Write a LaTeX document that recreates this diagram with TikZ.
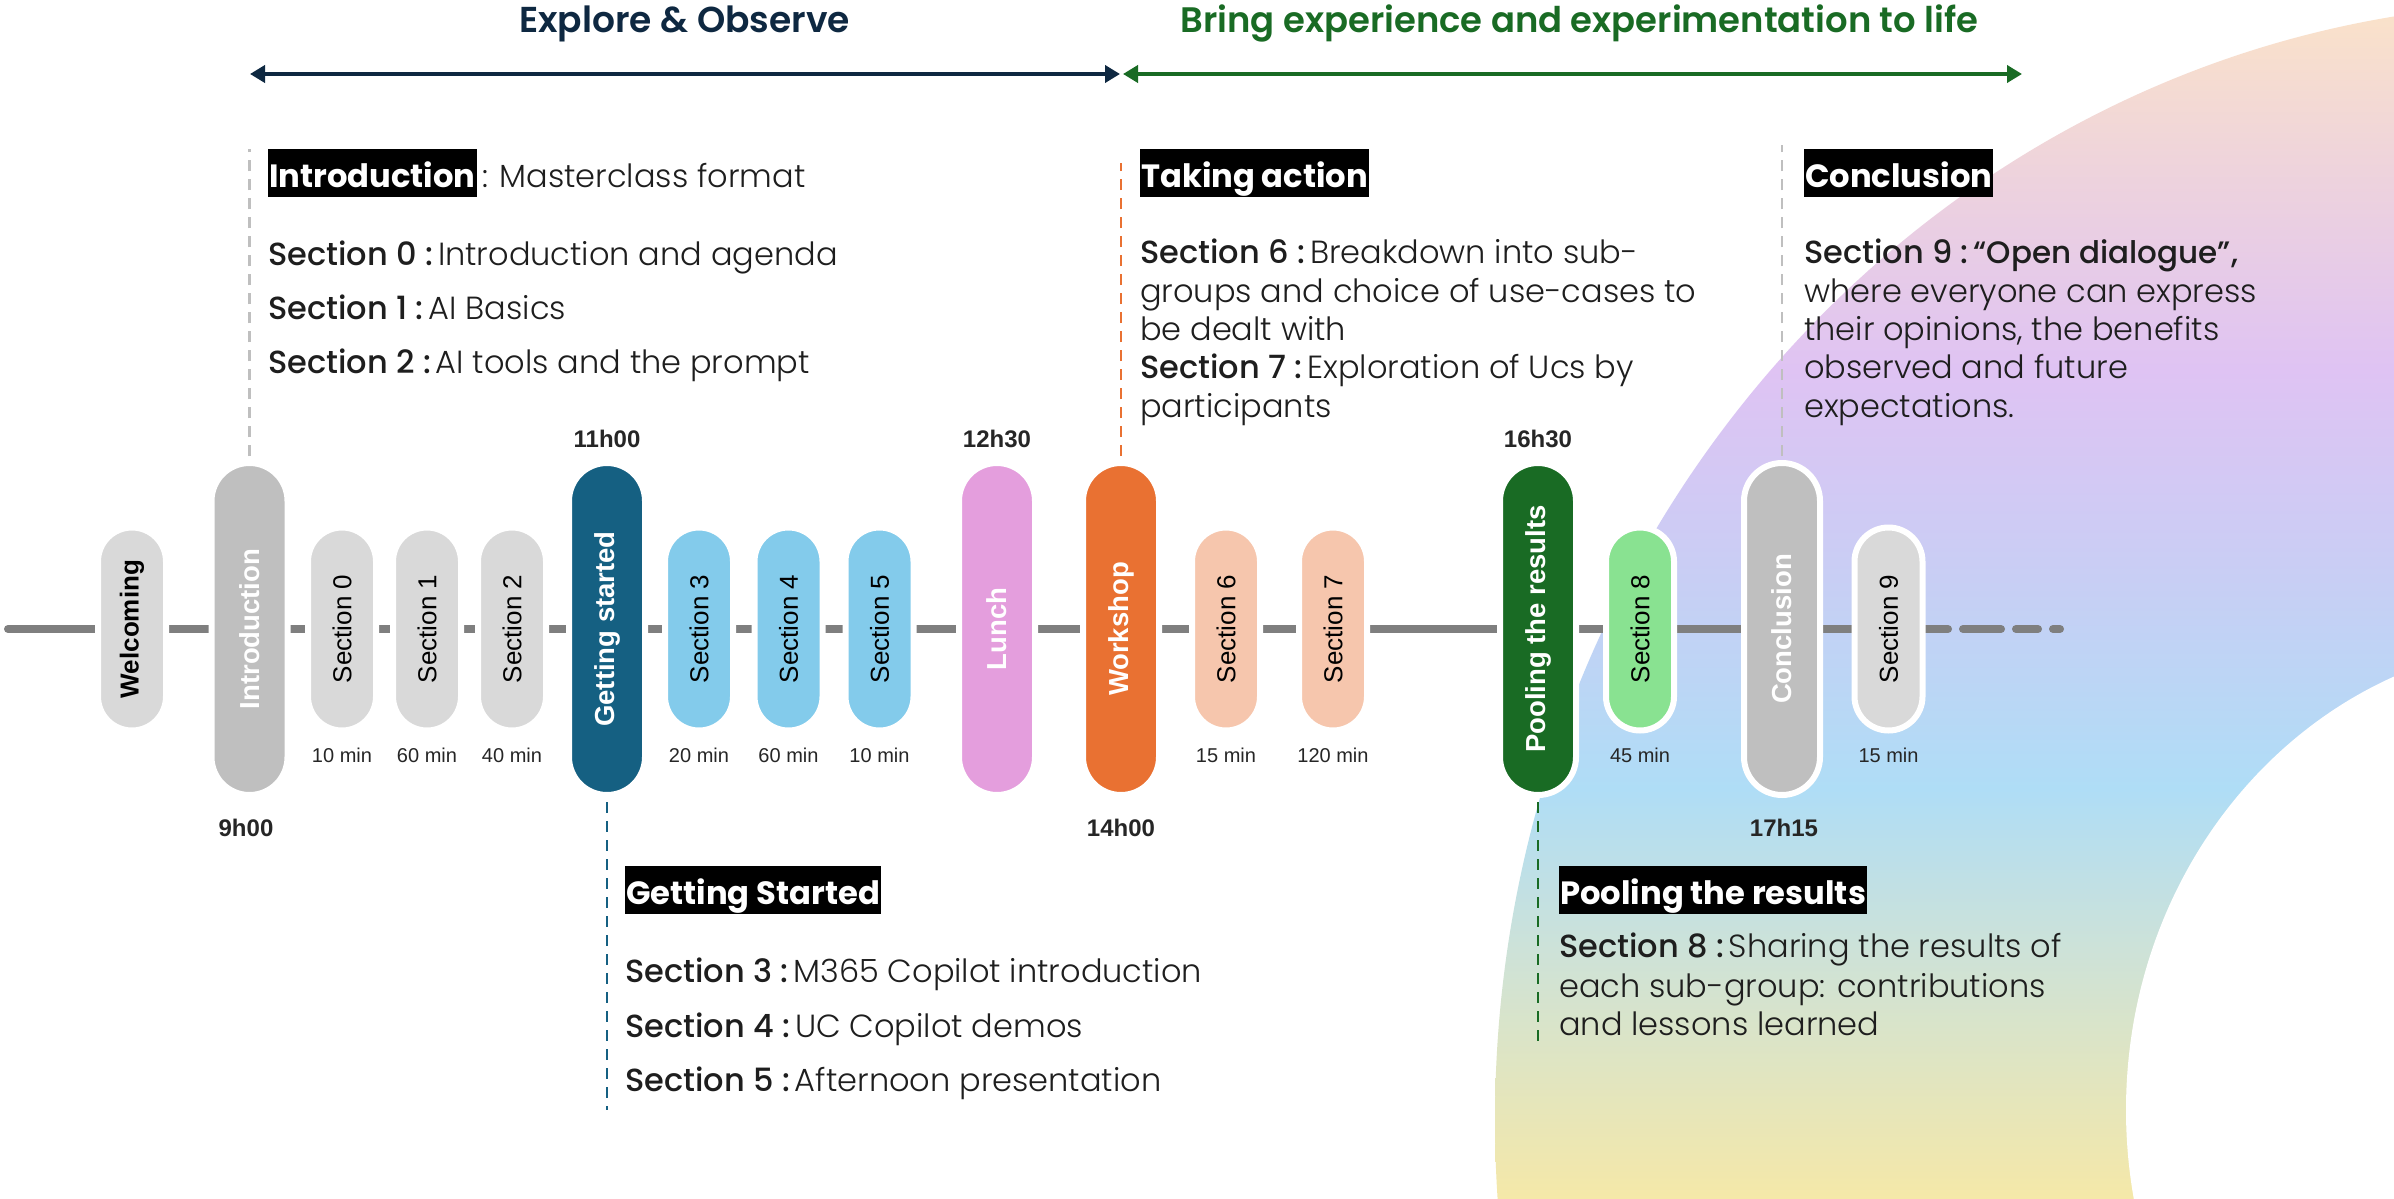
\documentclass[tikz,border=0pt]{standalone}
\usepackage{fontspec}
\setmainfont{Poppins}
\newfontfamily\plight{Poppins Light}
\newfontfamily\pmed{Poppins Medium}
\newfontfamily\psemi{Poppins SemiBold}
\newfontfamily\arial{Liberation Sans}
\usetikzlibrary{arrows.meta}

% palette
\definecolor{cNavy}{HTML}{0E2841}
\definecolor{cGreen}{HTML}{196B24}
\definecolor{cTeal}{HTML}{156082}
\definecolor{cOrange}{HTML}{E97132}
\definecolor{cPink}{HTML}{E49EDD}
\definecolor{cSky}{HTML}{83CBEB}
\definecolor{cPeach}{HTML}{F6C6AD}
\definecolor{cMint}{HTML}{89E291}
\definecolor{cLight}{HTML}{D9D9D9}
\definecolor{cMid}{HTML}{BFBFBF}
\definecolor{cLine}{HTML}{7F7F7F}
\definecolor{ink}{HTML}{1E1E1E}
\definecolor{timeink}{HTML}{262626}
% band colours, top to bottom
\definecolor{bgA}{HTML}{FBE3C8}
\definecolor{bgB}{HTML}{EED3DC}
\definecolor{bgC}{HTML}{DFC3F3}
\definecolor{bgD}{HTML}{CACDF4}
\definecolor{bgE}{HTML}{AFDDF6}
\definecolor{bgF}{HTML}{CDE2D8}
\definecolor{bgG}{HTML}{F5E8A8}

\pgfdeclareverticalshading{arcband}{100bp}{%
  color(0bp)=(bgG); color(25bp)=(bgG); color(35.4bp)=(bgF);
  color(42.1bp)=(bgE); color(51.6bp)=(bgD); color(59.6bp)=(bgC);
  color(67.9bp)=(bgB); color(75bp)=(bgA); color(100bp)=(bgA)}

\tikzset{
  pill/.style={draw=white, line width=6pt, rounded corners=#1, inner sep=0pt},
  shortpill/.style={pill=34pt, minimum width=68pt, minimum height=203pt},
  tallpill/.style={pill=38pt, minimum width=76pt, minimum height=332pt},
  plabel/.style={rotate=90, inner sep=0pt, font=\arial\fontsize{26}{26}\selectfont},
  pbold/.style={rotate=90, inner sep=0pt, font=\arial\bfseries\fontsize{27.5}{27.5}\selectfont},
  dur/.style={anchor=base, inner sep=0pt, text=timeink, font=\arial\fontsize{20}{20}\selectfont},
  clock/.style={anchor=base, inner sep=0pt, text=timeink, font=\arial\bfseries\fontsize{24}{24}\selectfont},
  body/.style={anchor=base west, inner sep=0pt, text=ink, font=\plight\fontsize{32}{32}\selectfont},
  hbox/.style={anchor=base west, fill=black, text=white, inner xsep=1pt, inner ysep=0pt,
    text height=38pt, text depth=10pt, font=\bfseries\fontsize{32.2}{32.2}\selectfont},
  title/.style={anchor=base, inner sep=0pt, font=\psemi\fontsize{36}{36}\selectfont},
  span/.style={line width=4.5pt, {Triangle[length=15pt,width=17pt]}-{Triangle[length=15pt,width=17pt]}},
  vdash/.style={line width=2.5pt, dash pattern=on 11pt off 8pt, shorten <=4pt},
  track/.style={draw=cLine, line width=8pt, line cap=round}
}
% lead-in of a description line, with a slightly tighter gap after the colon
\newcommand{\leadin}[1]{{\pmed #1}\hspace{5pt}}

\begin{document}
\begin{tikzpicture}[x=1pt, y=-1pt]
\useasboundingbox[fill=white] (0,0) rectangle (2394,1199);

% colour band behind the afternoon
\begin{scope}
  \clip (2560,1120) ellipse [x radius=1065pt, y radius=1117pt];
  \shade[shading=arcband] (1400,0) rectangle (2394,1199);
\end{scope}
\fill[white] (2560,1110) ellipse [x radius=434pt, y radius=469pt];

% phases
\node[title, text=cNavy] (phase1) at (684.5,33) {Explore \& Observe};
\node[title, text=cGreen, font=\psemi\fontsize{35.4}{35.4}\selectfont] (phase2) at (1579.5,33) {Bring experience and experimentation to life};
\coordinate (aL) at (250,74);
\coordinate (aM) at (1120,74);
\coordinate (aN) at (1123,74);
\coordinate (aR) at (2022,74);
\draw[span, cNavy] (aL) -- (aM);
\draw[span, cGreen] (aN) -- (aR);

% time line
\coordinate (tlA) at (8,629);
\coordinate (tlB) at (1948,629);
\coordinate (tlC) at (1963,629);
\coordinate (tlD) at (2001,629);
\coordinate (tlE) at (2016,629);
\coordinate (tlF) at (2038,629);
\coordinate (tlG) at (2053,629);
\coordinate (tlH) at (2060,629);
\draw[track] (tlA) -- (tlB);
\draw[track] (tlC) -- (tlD);
\draw[track] (tlE) -- (tlF);
\draw[track] (tlG) -- (tlH);

% steps
\node[shortpill, fill=cLight]  (welc) at (132,629) {};
\node[tallpill,  fill=cMid]    (intro) at (249.5,629) {};
\node[shortpill, fill=cLight]  (s0) at (342,629) {};
\node[shortpill, fill=cLight]  (s1) at (427,629) {};
\node[shortpill, fill=cLight]  (s2) at (512,629) {};
\node[tallpill,  fill=cTeal]   (gs) at (607,629) {};
\node[shortpill, fill=cSky]    (s3) at (699,629) {};
\node[shortpill, fill=cSky]    (s4) at (788.5,629) {};
\node[shortpill, fill=cSky]    (s5) at (879.5,629) {};
\node[tallpill,  fill=cPink]   (lunch) at (997,629) {};
\node[tallpill,  fill=cOrange] (work) at (1121,629) {};
\node[shortpill, fill=cPeach]  (s6) at (1226,629) {};
\node[shortpill, fill=cPeach]  (s7) at (1333,629) {};
\node[tallpill,  fill=cGreen]  (pool) at (1538,629) {};
\node[shortpill, fill=cMint]   (s8) at (1640,629) {};
\node[tallpill,  fill=cMid]    (conc) at (1782,629) {};
\node[shortpill, fill=cLight]  (s9) at (1888.5,629) {};

\node[pbold, font=\arial\bfseries\fontsize{26}{26}\selectfont] (welcT) at (welc) {Welcoming};
\node[pbold, text=white] (introT) at (intro) {Introduction};
\node[plabel] (s0T) at (s0) {Section 0};
\node[plabel] (s1T) at (s1) {Section 1};
\node[plabel] (s2T) at (s2) {Section 2};
\node[pbold, text=white] (gsT) at (gs) {Getting started};
\node[plabel] (s3T) at (s3) {Section 3};
\node[plabel] (s4T) at (s4) {Section 4};
\node[plabel] (s5T) at (s5) {Section 5};
\node[pbold, text=white] (lunchT) at (lunch) {Lunch};
\node[pbold, text=white] (workT) at (work) {Workshop};
\node[plabel] (s6T) at (s6) {Section 6};
\node[plabel] (s7T) at (s7) {Section 7};
\node[pbold, text=white] (poolT) at (pool) {Pooling the results};
\node[plabel] (s8T) at (s8) {Section 8};
\node[pbold, text=white] (concT) at (conc) {Conclusion};
\node[plabel] (s9T) at (s9) {Section 9};

% durations
\node[dur] (d0) at (342,762) {10 min};
\node[dur] (d1) at (427,762) {60 min};
\node[dur] (d2) at (512,762) {40 min};
\node[dur] (d3) at (699,762) {20 min};
\node[dur] (d4) at (788.5,762) {60 min};
\node[dur] (d5) at (879.5,762) {10 min};
\node[dur] (d6) at (1226,762) {15 min};
\node[dur] (d7) at (1333,762) {120 min};
\node[dur] (d8) at (1640,762) {45 min};
\node[dur] (d9) at (1888.5,762) {15 min};

% clock times
\node[clock] (t1100) at (607,447) {11h00};
\node[clock] (t1230) at (997,447) {12h30};
\node[clock] (t1630) at (1538,447) {16h30};
\node[clock] (t0900) at (246,836) {9h00};
\node[clock] (t1400) at (1121,836) {14h00};
\node[clock] (t1715) at (1784,836) {17h15};

% leaders to the descriptions
\coordinate (cIntro) at (249.5,149);
\coordinate (cWork) at (1121,163);
\coordinate (cConc) at (1782,145);
\coordinate (cGS) at (607,1110);
\coordinate (cPool) at (1538,1045);
\draw[vdash, cMid] (intro.north) -- (cIntro);
\draw[vdash, cOrange] (work.north) -- (cWork);
\draw[vdash, cMid] (conc.north) -- (cConc);
\draw[vdash, cTeal] (gs.south) -- (cGS);
\draw[vdash, cGreen] (pool.south) -- (cPool);

% morning description
\node[hbox] (hIntro) at (268,187) {Introduction};
\node[body] (hIntroTail) at ([xshift=5pt]hIntro.base east) {: Masterclass format};
\node[body] (i0) at (268,265) {\leadin{Section 0 :}Introduction and agenda};
\node[body] (i1) at (268,319) {\leadin{Section 1 :}AI Basics};
\node[body] (i2) at (268,373) {\leadin{Section 2 :}AI tools and the prompt};

\node[hbox] (hGS) at (625,904) {Getting Started};
\node[body] (g0) at (625,982) {\leadin{Section 3 :}M365 Copilot introduction};
\node[body] (g1) at (625,1037) {\leadin{Section 4 :}UC Copilot demos};
\node[body] (g2) at (625,1091) {\leadin{Section 5 :}Afternoon presentation};

% afternoon descriptions
\node[hbox] (hTake) at (1140,187) {Taking action};
\node[body] (a0) at (1140,263) {\leadin{Section 6 :}Breakdown into sub-};
\node[body] (a1) at (1140,302) {groups and choice of use-cases to};
\node[body] (a2) at (1140,340) {be dealt with};
\node[body] (a3) at (1140,378) {\leadin{Section 7 :}Exploration of Ucs by};
\node[body] (a4) at (1140,417) {participants};

\node[hbox] (hPool) at (1559,904) {Pooling the results};
\node[body] (p0) at (1559,957) {\leadin{Section 8 :}Sharing the results of};
\node[body] (p1) at (1559,997) {each sub-group: contributions};
\node[body] (p2) at (1559,1035) {and lessons learned};

\node[hbox] (hConc) at (1804,187) {Conclusion};
\node[body] (k0) at (1804,263) {\leadin{Section 9 :}{\pmed\fontsize{31}{31}\selectfont “Open dialogue”,}};
\node[body] (k1) at (1804,302) {where everyone can express};
\node[body] (k2) at (1804,340) {their opinions, the benefits};
\node[body] (k3) at (1804,378) {observed and future};
\node[body] (k4) at (1804,417) {expectations.};
\end{tikzpicture}
\end{document}
